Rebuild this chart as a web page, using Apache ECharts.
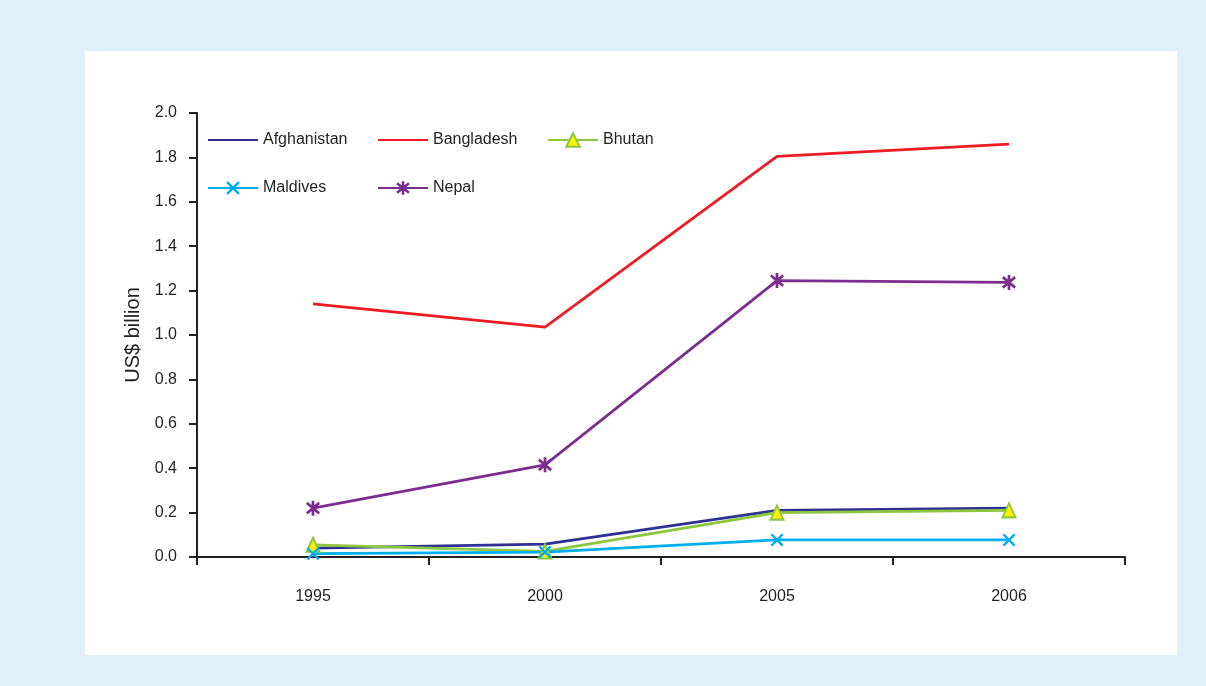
<!DOCTYPE html>
<html>
<head>
<meta charset="utf-8">
<title>South Asia – US$ billion</title>
<script src="https://cdn.jsdelivr.net/npm/echarts@6/dist/echarts.min.js"></script>
<style>
  html, body { margin: 0; padding: 0; background: #dff0fa; }
  #panel { position: absolute; left: 85px; top: 51px; width: 1092px; height: 604px; background: #ffffff; }
  #chart { position: absolute; left: 0; top: 0; width: 1206px; height: 686px; }
</style>
</head>
<body>
<div id="panel"></div>
<div id="chart"></div>
<script>
// Years on the category axis
const years = ['1995', '2000', '2005', '2006'];

// Values in US$ billion
const afghanistan = [0.04, 0.058, 0.21, 0.22];
const bangladesh  = [1.14, 1.035, 1.805, 1.86];
const bhutan      = [0.055, 0.025, 0.20, 0.21];
const maldives    = [0.015, 0.022, 0.077, 0.077];
const nepal       = [0.22, 0.415, 1.245, 1.237];

// Value axis ticks
const yMin = 0, yMax = 2, yStep = 0.2;
const yTitle = 'US$ billion';

const FONT = "'Liberation Sans', Arial, sans-serif";
const TEXT = '#231f20';

// Filled outlines for the star (*) and cross (x) markers
const starPath = 'path://M8 0L12 0L12 20L8 20Z' +
  'M2.17 1.5L20.17 15.5L17.83 18.5L-0.17 4.5Z' +
  'M-0.17 15.5L17.83 1.5L20.17 4.5L2.17 18.5Z';
const crossPath = 'path://M2.77 0.23L19.77 17.23L17.23 19.77L0.23 2.77Z' +
  'M0.23 17.23L17.23 0.23L19.77 2.77L2.77 19.77Z';

const seriesDefs = [
  { name: 'Afghanistan', data: afghanistan, color: '#2e3192', symbol: 'none' },
  { name: 'Bangladesh',  data: bangladesh,  color: '#ed1c24', symbol: 'none' },
  { name: 'Bhutan',      data: bhutan,      color: '#8dc63f', symbol: 'triangle', size: [13, 14],
    item: { color: '#fff200', borderColor: '#8dc63f', borderWidth: 2 } },
  { name: 'Maldives',    data: maldives,    color: '#00aeef', symbol: crossPath, size: 13,
    item: { color: '#00aeef' } },
  { name: 'Nepal',       data: nepal,       color: '#7b2d8e', symbol: starPath, size: [14, 15],
    item: { color: '#7b2d8e' } }
];

// Legend layout: two rows, fixed columns
const legendSlots = [[207, 132], [377, 132], [547, 132], [207, 180], [377, 180]];

const legends = seriesDefs.map((s, i) => ({
  data: [s.symbol === 'none'
    ? { name: s.name, itemStyle: { opacity: 0 } }
    : { name: s.name }],
  left: legendSlots[i][0],
  top: legendSlots[i][1],
  padding: 0,
  orient: 'horizontal',
  itemWidth: 50,
  itemHeight: 17,
  itemGap: 5,
  selectedMode: false,
  textStyle: { fontFamily: FONT, fontSize: 16, color: TEXT }
}));

const chart = echarts.init(document.getElementById('chart'), null, { renderer: 'canvas' });
chart.setOption({
  animation: false,
  backgroundColor: 'transparent',
  legend: legends,
  grid: { left: 197, top: 113, right: 81, bottom: 129, containLabel: false },
  xAxis: {
    type: 'category',
    data: years,
    boundaryGap: true,
    axisLine: { lineStyle: { color: TEXT, width: 2 } },
    axisTick: { show: true, length: 8, inside: false, lineStyle: { color: TEXT, width: 2 } },
    axisLabel: { fontFamily: FONT, fontSize: 16, color: TEXT, margin: 32 },
    splitLine: { show: false }
  },
  yAxis: {
    type: 'value',
    min: yMin, max: yMax, interval: yStep,
    name: yTitle,
    nameLocation: 'middle',
    nameGap: 54,
    nameRotate: 90,
    nameTextStyle: { fontFamily: FONT, fontSize: 20, color: TEXT },
    axisLine: { show: true, lineStyle: { color: TEXT, width: 2 } },
    axisTick: { show: true, length: 8, inside: false, lineStyle: { color: TEXT, width: 2 } },
    axisLabel: { fontFamily: FONT, fontSize: 16, color: TEXT, margin: 20,
      formatter: v => v.toFixed(1) },
    splitLine: { show: false }
  },
  series: seriesDefs.map(s => ({
    name: s.name,
    type: 'line',
    data: s.data,
    symbol: s.symbol,
    symbolSize: s.size || 0,
    showSymbol: s.symbol !== 'none',
    color: s.color,
    lineStyle: { color: s.color, width: 2.75 },
    itemStyle: s.item || { color: s.color },
    emphasis: { disabled: true }
  }))
});
</script>
</body>
</html>
